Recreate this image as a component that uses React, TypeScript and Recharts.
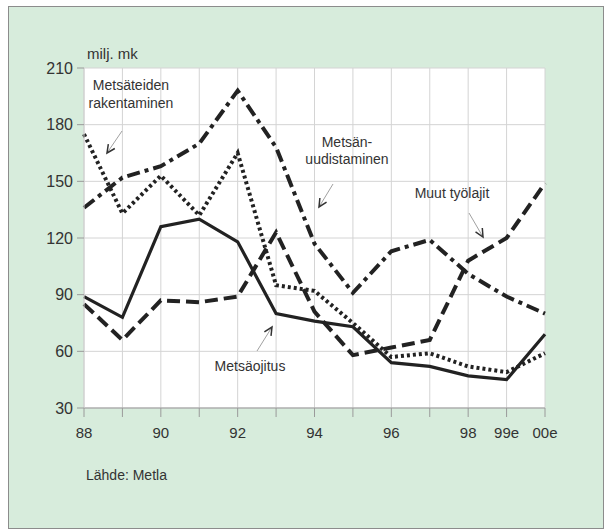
import { CartesianGrid, Line, LineChart, XAxis, YAxis } from "recharts";

const years = ["88", "89", "90", "91", "92", "93", "94", "95", "96", "97", "98", "99e", "00e"];
const tickLabels = ["88", "", "90", "", "92", "", "94", "", "96", "", "98", "99e", "00e"];
const yTicks = [30, 60, 90, 120, 150, 180, 210];

const metsaojitus = [89, 78, 126, 130, 118, 80, 76, 73, 54, 52, 47, 45, 69];
const muutTyolajit = [85, 66, 87, 86, 89, 123, 81, 58, 62, 66, 108, 120, 149];
const metsanUudistaminen = [136, 152, 158, 170, 198, 168, 117, 91, 113, 119, 101, 89, 80];
const metsateidenRakentaminen = [175, 133, 153, 132, 165, 95, 92, 75, 57, 59, 52, 49, 59];

const data = years.map((year, i) => ({
  x: i,
  year,
  ojitus: metsaojitus[i],
  muut: muutTyolajit[i],
  uudistaminen: metsanUudistaminen[i],
  tiet: metsateidenRakentaminen[i],
}));

const FONT = '"Liberation Sans", Arial, sans-serif';
const TEXT = "#333";

function Arrow({ x1, y1, x2, y2 }: { x1: number; y1: number; x2: number; y2: number }) {
  const a = Math.atan2(y2 - y1, x2 - x1);
  const len = 9;
  const spread = 0.45;
  const p1 = [x2 - len * Math.cos(a - spread), y2 - len * Math.sin(a - spread)];
  const p2 = [x2 - len * Math.cos(a + spread), y2 - len * Math.sin(a + spread)];
  return (
    <g>
      <line x1={x1} y1={y1} x2={x2} y2={y2} stroke="#888" strokeWidth={0.8} />
      <polyline
        points={`${p1[0]},${p1[1]} ${x2},${y2} ${p2[0]},${p2[1]}`}
        fill="none"
        stroke="#333"
        strokeWidth={1.5}
      />
    </g>
  );
}

export default function App() {
  return (
    <div style={{ position: "absolute", left: 0, top: 0, width: 609, height: 531, background: "#fff", fontFamily: FONT }}>
      <div
        style={{
          position: "absolute",
          left: 8,
          top: 6,
          width: 594,
          height: 521,
          background: "#d7ecdc",
          border: "1.5px solid #8c8c8c",
        }}
      />
      <div style={{ position: "absolute", left: 0, top: 0 }}>
        <LineChart width={609} height={531} data={data} margin={{ top: 68, right: 64, left: 24, bottom: 93 }}>
          <CartesianGrid stroke="#d4d4d4" fill="#fff" fillOpacity={1} />
          <XAxis
            dataKey="x"
            type="number"
            domain={[0, 12]}
            ticks={years.map((_, i) => i)}
            tickFormatter={(v: number) => tickLabels[v]}
            interval={0}
            height={30}
            stroke="#9a9a9a"
            tickSize={9}
            tickMargin={10}
            tick={{ fill: TEXT, fontSize: 15, fontFamily: FONT }}
          />
          <YAxis
            domain={[30, 210]}
            ticks={yTicks}
            interval={0}
            width={60}
            stroke="#cfcfcf"
            tickLine={{ stroke: "#9a9a9a" }}
            tickSize={7}
            tickMargin={4}
            tick={{ fill: TEXT, fontSize: 16, fontFamily: FONT }}
          />
          <Line
            type="linear"
            dataKey="tiet"
            stroke="#222"
            strokeWidth={4}
            strokeDasharray="3 3"
            dot={false}
            isAnimationActive={false}
          />
          <Line
            type="linear"
            dataKey="uudistaminen"
            stroke="#222"
            strokeWidth={4}
            strokeDasharray="13 5 4 5"
            dot={false}
            isAnimationActive={false}
          />
          <Line
            type="linear"
            dataKey="muut"
            stroke="#222"
            strokeWidth={4}
            strokeDasharray="13 6"
            dot={false}
            isAnimationActive={false}
          />
          <Line
            type="linear"
            dataKey="ojitus"
            stroke="#222"
            strokeWidth={3.2}
            dot={false}
            isAnimationActive={false}
          />
        </LineChart>
      </div>
      <svg width={609} height={531} style={{ position: "absolute", left: 0, top: 0, pointerEvents: "none" }}>
        <g fontFamily={FONT} fill={TEXT}>
          <text x={87} y={59} fontSize={15}>milj. mk</text>
          <text x={131} y={90} fontSize={14} textAnchor="middle">Metsäteiden</text>
          <text x={131} y={108} fontSize={14} textAnchor="middle">rakentaminen</text>
          <text x={347} y={147} fontSize={14} textAnchor="middle">Metsän-</text>
          <text x={347} y={164} fontSize={14} textAnchor="middle">uudistaminen</text>
          <text x={452} y={198} fontSize={14} textAnchor="middle">Muut työlajit</text>
          <text x={250} y={371} fontSize={14} textAnchor="middle">Metsäojitus</text>
          <text x={86} y={480} fontSize={14}>Lähde: Metla</text>
        </g>
        <Arrow x1={122} y1={131} x2={107} y2={153} />
        <Arrow x1={333} y1={184} x2={319} y2={207} />
        <Arrow x1={469} y1={213} x2={483} y2={237} />
        <Arrow x1={257} y1={351} x2={272} y2={327} />
      </svg>
    </div>
  );
}
